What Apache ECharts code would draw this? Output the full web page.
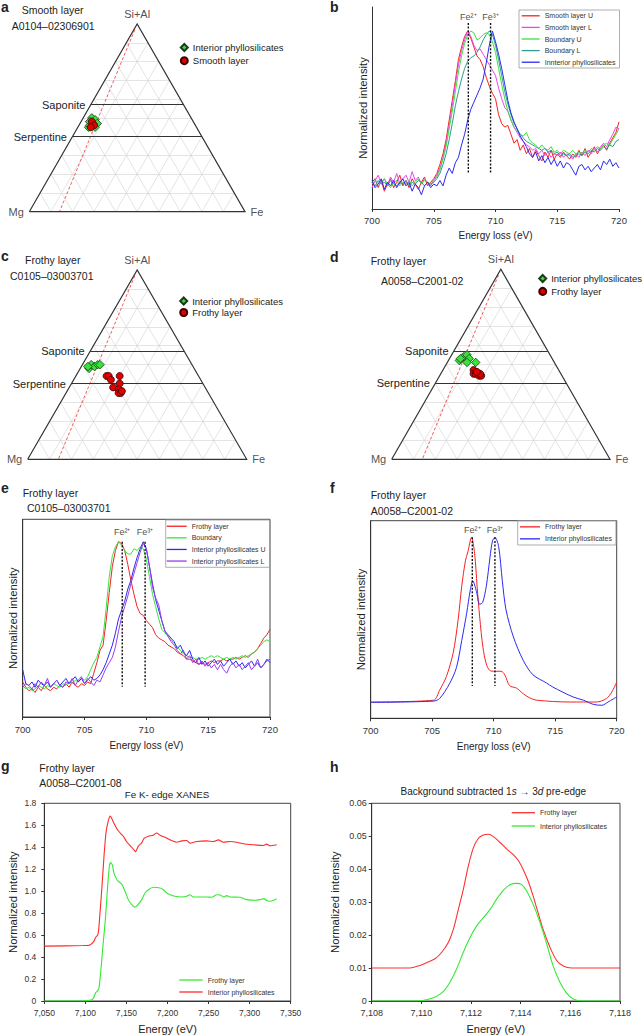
<!DOCTYPE html>
<html>
<head>
<meta charset="utf-8">
<title>Fe phyllosilicates</title>
<script src="https://cdn.jsdelivr.net/npm/echarts@6.0.0/dist/echarts.min.js"></script>
<style>
    body { margin: 0; background: #fff; }
    #page { position: relative; width: 643px; height: 1035px; }
    .layer { position: absolute; left: 0; top: 0; width: 643px; height: 1035px; }
</style>
</head>
<body>
<div id="page">
    <div class="layer" id="pa"></div>
    <div class="layer" id="pb"></div>
    <div class="layer" id="pc"></div>
    <div class="layer" id="pd"></div>
    <div class="layer" id="pe"></div>
    <div class="layer" id="pf"></div>
    <div class="layer" id="pg"></div>
    <div class="layer" id="ph"></div>
</div>
<script type="text/javascript">
    // ---------- ternary compositions, [Si+Al, Mg, Fe] fractions ----------
    var aInterior = [[0.45, 0.50, 0.05], [0.46, 0.49, 0.05], [0.50, 0.46, 0.04], [0.49, 0.45, 0.06],
                     [0.47, 0.45, 0.08], [0.45, 0.47, 0.08], [0.48, 0.48, 0.04], [0.47, 0.47, 0.06]];
    var aSmooth = [[0.48, 0.47, 0.05], [0.46, 0.47, 0.07], [0.45, 0.49, 0.06]];
    var cInterior = [[0.48, 0.48, 0.04], [0.50, 0.46, 0.04], [0.49, 0.45, 0.06], [0.50, 0.43, 0.07],
                     [0.50, 0.42, 0.08], [0.49, 0.48, 0.03]];
    var cFrothy = [[0.44, 0.42, 0.14], [0.44, 0.41, 0.15], [0.42, 0.41, 0.17], [0.44, 0.36, 0.20],
                   [0.40, 0.38, 0.22], [0.38, 0.42, 0.20], [0.37, 0.40, 0.23], [0.35, 0.41, 0.24],
                   [0.35, 0.40, 0.25], [0.36, 0.39, 0.25]];
    var dInterior = [[0.52, 0.43, 0.05], [0.54, 0.40, 0.06], [0.55, 0.38, 0.07], [0.53, 0.38, 0.09],
                     [0.51, 0.40, 0.09], [0.51, 0.36, 0.13], [0.53, 0.42, 0.05]];
    var dFrothy = [[0.47, 0.39, 0.14], [0.45, 0.40, 0.15], [0.45, 0.39, 0.16], [0.44, 0.38, 0.18],
                   [0.44, 0.37, 0.19], [0.45, 0.37, 0.18], [0.46, 0.38, 0.16]];
    var ternRefs = [{name: 'Saponite', siAl: 0.571}, {name: 'Serpentine', siAl: 0.40}];
    var feRatioLine = 0.14; // Fe/(Fe+Mg) of the dashed line

    // ---------- EELS spectra, 700-720 eV every 0.25 eV ----------
    var eelsE = [];
    for (var i = 0; i <= 80; i++) eelsE.push(700 + i * 0.25);

    var bSmoothU = [0.15, 0.17, 0.12, 0.16, 0.10, 0.14, 0.17, 0.12, 0.15, 0.19, 0.13, 0.16, 0.12, 0.17, 0.14, 0.11, 0.15, 0.18, 0.13, 0.15, 0.17,
        0.20, 0.25, 0.31, 0.39, 0.50, 0.61, 0.72, 0.84, 0.91, 0.97, 1.00, 0.96, 0.91, 0.86, 0.84, 0.80, 0.74, 0.69, 0.65, 0.62,
        0.53, 0.48, 0.46, 0.47, 0.42, 0.37, 0.39, 0.33, 0.36, 0.31, 0.34, 0.29, 0.33, 0.30, 0.27, 0.32, 0.29, 0.33, 0.28, 0.31,
        0.29, 0.32, 0.30, 0.28, 0.31, 0.29, 0.33, 0.30, 0.34, 0.29, 0.32, 0.35, 0.31, 0.34, 0.36, 0.33, 0.37, 0.40, 0.43, 0.49];
    var bSmoothL = [0.12, 0.16, 0.19, 0.14, 0.17, 0.13, 0.18, 0.15, 0.20, 0.14, 0.17, 0.19, 0.15, 0.21, 0.16, 0.18, 0.14, 0.17, 0.15, 0.13, 0.16,
        0.19, 0.23, 0.29, 0.37, 0.47, 0.58, 0.70, 0.81, 0.89, 0.95, 1.00, 0.97, 0.92, 0.89, 0.90, 0.87, 0.84, 0.81, 0.78, 0.75,
        0.68, 0.62, 0.57, 0.55, 0.50, 0.46, 0.43, 0.40, 0.38, 0.36, 0.35, 0.33, 0.34, 0.31, 0.33, 0.30, 0.32, 0.29, 0.31, 0.30,
        0.32, 0.29, 0.31, 0.30, 0.28, 0.31, 0.29, 0.32, 0.30, 0.33, 0.31, 0.34, 0.32, 0.35, 0.37, 0.35, 0.39, 0.42, 0.46, 0.45];
    var bBoundaryU = [0.14, 0.16, 0.13, 0.15, 0.17, 0.14, 0.12, 0.15, 0.16, 0.13, 0.15, 0.14, 0.16, 0.13, 0.15, 0.17, 0.14, 0.16, 0.15, 0.14, 0.16,
        0.18, 0.22, 0.28, 0.35, 0.45, 0.55, 0.66, 0.77, 0.86, 0.93, 0.98, 1.00, 0.99, 0.95, 0.96, 0.98, 0.99, 0.98, 0.94, 0.88,
        0.79, 0.70, 0.62, 0.55, 0.50, 0.46, 0.44, 0.42, 0.41, 0.43, 0.39, 0.37, 0.36, 0.34, 0.36, 0.34, 0.33, 0.35, 0.32, 0.33,
        0.31, 0.33, 0.32, 0.31, 0.33, 0.31, 0.32, 0.31, 0.33, 0.32, 0.34, 0.33, 0.35, 0.34, 0.36, 0.37, 0.36, 0.39, 0.42, 0.45];
    var bBoundaryL = [0.15, 0.13, 0.16, 0.14, 0.15, 0.13, 0.16, 0.14, 0.13, 0.15, 0.14, 0.16, 0.13, 0.15, 0.14, 0.16, 0.15, 0.13, 0.15, 0.14, 0.15,
        0.17, 0.20, 0.25, 0.31, 0.39, 0.48, 0.58, 0.66, 0.73, 0.79, 0.83, 0.85, 0.86, 0.88, 0.91, 0.95, 0.98, 1.00, 0.98, 0.92,
        0.84, 0.75, 0.66, 0.59, 0.53, 0.48, 0.45, 0.42, 0.40, 0.38, 0.37, 0.36, 0.35, 0.34, 0.33, 0.34, 0.32, 0.33, 0.31, 0.32,
        0.30, 0.31, 0.30, 0.31, 0.29, 0.30, 0.31, 0.30, 0.32, 0.31, 0.33, 0.32, 0.34, 0.33, 0.35, 0.34, 0.36, 0.35, 0.38, 0.39];
    var bInterior = [0.16, 0.12, 0.14, 0.17, 0.11, 0.15, 0.13, 0.16, 0.12, 0.15, 0.17, 0.13, 0.15, 0.10, 0.14, 0.12, 0.08, 0.13, 0.15, 0.12, 0.14,
        0.13, 0.16, 0.13, 0.19, 0.23, 0.20, 0.26, 0.29, 0.36, 0.42, 0.50, 0.56, 0.60, 0.64, 0.68, 0.73, 0.82, 0.92, 1.00, 0.94,
        0.87, 0.79, 0.70, 0.61, 0.54, 0.49, 0.45, 0.41, 0.38, 0.35, 0.31, 0.29, 0.32, 0.27, 0.30, 0.26, 0.29, 0.25, 0.28, 0.24,
        0.27, 0.23, 0.26, 0.25, 0.22, 0.19, 0.24, 0.25, 0.22, 0.24, 0.21, 0.23, 0.25, 0.22, 0.27, 0.25, 0.28, 0.24, 0.26, 0.23];

    var eFrothy = [0.20, 0.17, 0.15, 0.16, 0.14, 0.17, 0.15, 0.18, 0.16, 0.15, 0.17, 0.16, 0.18, 0.17, 0.19, 0.17, 0.20, 0.18, 0.17, 0.19, 0.18, 0.20, 0.19,
        0.25, 0.31, 0.38, 0.41, 0.55, 0.71, 0.86, 0.95, 1.00, 0.99,
        0.95, 0.87, 0.78, 0.70, 0.63, 0.59, 0.58, 0.55, 0.53, 0.51, 0.47, 0.45, 0.44, 0.43, 0.41, 0.40, 0.39, 0.37, 0.36, 0.35,
        0.33, 0.33, 0.32, 0.31, 0.30, 0.31, 0.30, 0.31, 0.32, 0.31, 0.32, 0.32, 0.33, 0.32, 0.33, 0.33, 0.34, 0.33, 0.34, 0.35,
        0.34, 0.36, 0.37, 0.39, 0.42, 0.45, 0.47, 0.50];
    var eBoundary = [0.18, 0.16, 0.17, 0.15, 0.16, 0.18, 0.17, 0.16, 0.18, 0.17, 0.19, 0.18, 0.17, 0.19, 0.18, 0.20, 0.19, 0.21, 0.20, 0.22, 0.21, 0.23,
        0.27, 0.31, 0.34, 0.40, 0.46, 0.62, 0.80, 0.92, 0.97, 1.00, 0.98,
        0.95, 0.93, 0.93, 0.96, 0.95, 0.97, 0.96, 0.90, 0.80, 0.70, 0.63, 0.56, 0.50, 0.48, 0.46, 0.44, 0.42, 0.40, 0.38, 0.36,
        0.35, 0.34, 0.34, 0.33, 0.33, 0.34, 0.33, 0.34, 0.35, 0.34, 0.35, 0.34, 0.33, 0.34, 0.33, 0.34, 0.33, 0.34, 0.35, 0.34,
        0.35, 0.36, 0.37, 0.39, 0.41, 0.43, 0.44, 0.43];
    var eInteriorU = [0.27, 0.19, 0.18, 0.20, 0.17, 0.21, 0.19, 0.18, 0.20, 0.17, 0.19, 0.21, 0.18, 0.20, 0.22, 0.19, 0.21, 0.23, 0.20, 0.22, 0.19, 0.21, 0.23, 0.21, 0.22,
        0.24, 0.27, 0.31, 0.36, 0.41, 0.48, 0.56, 0.61, 0.66, 0.73, 0.78, 0.85, 0.91, 0.96, 1.00, 0.96,
        0.86, 0.76, 0.67, 0.61, 0.55, 0.49, 0.47, 0.45, 0.43, 0.39, 0.41, 0.37, 0.35, 0.38, 0.33, 0.31,
        0.34, 0.30, 0.32, 0.29, 0.31, 0.33, 0.30, 0.32, 0.29, 0.31, 0.33, 0.30, 0.32, 0.29, 0.31, 0.28,
        0.30, 0.32, 0.29, 0.31, 0.28, 0.30, 0.33, 0.31];
    var eInteriorL = [0.17, 0.19, 0.18, 0.16, 0.19, 0.17, 0.20, 0.18, 0.22, 0.17, 0.19, 0.21, 0.18, 0.17, 0.20, 0.19, 0.22, 0.18, 0.21, 0.23, 0.19, 0.22, 0.20, 0.18, 0.21,
        0.20, 0.24, 0.28, 0.31, 0.34, 0.40, 0.49, 0.57, 0.63, 0.69, 0.76, 0.82, 0.88, 0.94, 0.99, 0.96,
        0.86, 0.74, 0.68, 0.64, 0.55, 0.49, 0.46, 0.43, 0.41, 0.38, 0.36, 0.38, 0.33, 0.35, 0.31, 0.33,
        0.30, 0.32, 0.29, 0.31, 0.28, 0.30, 0.27, 0.30, 0.27, 0.25, 0.29, 0.31, 0.28, 0.30, 0.27, 0.29,
        0.31, 0.27, 0.29, 0.33, 0.28, 0.30, 0.32, 0.33];

    // ---------- panel f, [energy loss, intensity] ----------
    var fFrothy = [[700, 0.09], [705.1, 0.10], [705.6, 0.155], [706.15, 0.23], [706.7, 0.36], [707.1, 0.54], [707.4, 0.73],
        [707.7, 0.87], [707.9, 0.92], [708.2, 1.0], [708.45, 0.91], [708.65, 0.73], [708.86, 0.56], [709.13, 0.39],
        [709.4, 0.30], [709.67, 0.265], [710.08, 0.26], [710.6, 0.26], [710.9, 0.24], [711.3, 0.18], [711.85, 0.167],
        [712.4, 0.136], [712.9, 0.114], [713.5, 0.10], [716.2, 0.09], [718.35, 0.09], [719.16, 0.109], [719.6, 0.145], [720, 0.2]];
    var fInterior = [[700, 0.088], [705.1, 0.095], [705.6, 0.109], [706.4, 0.19], [706.97, 0.28], [707.4, 0.43], [707.8, 0.58],
        [708.1, 0.71], [708.3, 0.76], [708.6, 0.70], [708.86, 0.63], [709.1, 0.64], [709.4, 0.73], [709.7, 0.89],
        [709.9, 0.98], [710.1, 1.0], [710.4, 0.95], [710.7, 0.76], [711.0, 0.60], [711.6, 0.45], [712.4, 0.32],
        [713.2, 0.24], [714.3, 0.195], [714.8, 0.173], [716.45, 0.118], [717.3, 0.10], [718.1, 0.077], [718.8, 0.072],
        [719.3, 0.09], [720, 0.118]];

    // ---------- panel g, Fe K-edge XANES [energy, intensity] ----------
    var gFrothy = [[7050, 0], [7093, 0], [7105.6, 0.006], [7109.7, 0.024], [7112.5, 0.076], [7114.5, 0.09], [7116.6, 0.12],
        [7118.6, 0.257], [7121, 0.469], [7124.3, 0.74], [7127.1, 1.044], [7129.2, 1.225], [7130.8, 1.261], [7132.8, 1.24],
        [7134.8, 1.165], [7137.3, 1.12], [7140.1, 1.09], [7143, 1.074], [7145.4, 1.05], [7148.2, 1.0], [7152.3, 0.923],
        [7156.4, 0.877], [7160.4, 0.853], [7163.3, 0.871], [7168.6, 0.923], [7172.6, 0.983], [7176.7, 1.013], [7182.7, 1.035],
        [7190.9, 1.029], [7195, 1.013], [7199, 0.983], [7203.1, 0.968], [7209.1, 0.953], [7217.2, 0.947], [7223.3, 0.953],
        [7227.4, 0.968], [7231.4, 0.947], [7247.7, 0.947], [7253.8, 0.944], [7259.9, 0.968], [7264, 0.965], [7268.8, 0.947],
        [7272, 0.959], [7276.1, 0.947], [7288.3, 0.944], [7296.4, 0.923], [7306.5, 0.917], [7312.6, 0.923], [7317.5, 0.932],
        [7320.8, 0.914], [7324.8, 0.908], [7333, 0.932]];
    var gInterior = [[7050, 0.5], [7097.5, 0.505], [7105.6, 0.51], [7110.5, 0.545], [7112.5, 0.58], [7115, 0.6], [7116.2, 0.65],
        [7117.8, 0.8], [7120.2, 1.04], [7122.7, 1.32], [7125.1, 1.53], [7127.9, 1.64], [7130.4, 1.685], [7132.8, 1.65],
        [7136, 1.6], [7140, 1.55], [7146.2, 1.5], [7150.3, 1.45], [7155.1, 1.41], [7159.2, 1.376], [7161.2, 1.36],
        [7164.5, 1.41], [7168.6, 1.44], [7171.4, 1.48], [7176.7, 1.5], [7182.7, 1.51], [7186.8, 1.53], [7190.9, 1.51],
        [7197, 1.49], [7203, 1.467], [7211.2, 1.446], [7217.2, 1.458], [7223.3, 1.461], [7227.4, 1.437], [7235.5, 1.452],
        [7247.7, 1.458], [7255.8, 1.452], [7261.9, 1.467], [7268, 1.446], [7276.1, 1.452], [7284.2, 1.446], [7292.4, 1.431],
        [7304.5, 1.422], [7316.7, 1.416], [7320.8, 1.428], [7324.8, 1.413], [7333, 1.422]];

    // ---------- panel h, pre-edge [energy, intensity] ----------
    var hFrothy = [[7108, 0.01], [7109.54, 0.01], [7109.95, 0.0108], [7110.21, 0.0116], [7110.55, 0.0128], [7110.82, 0.0148],
        [7111.09, 0.0178], [7111.29, 0.0218], [7111.49, 0.0278], [7111.69, 0.0339], [7111.89, 0.0409], [7112.09, 0.0464],
        [7112.3, 0.0494], [7112.5, 0.0504], [7112.7, 0.0506], [7112.9, 0.0499], [7113.17, 0.0481], [7113.44, 0.0461],
        [7113.7, 0.0444], [7113.9, 0.0427], [7114.1, 0.0399], [7114.3, 0.0364], [7114.5, 0.0319], [7114.7, 0.0268],
        [7114.9, 0.0218], [7115.18, 0.0163], [7115.45, 0.0123], [7115.72, 0.0106], [7116.05, 0.01], [7118, 0.01]];
    var hInterior = [[7108, 0], [7109.8, 0], [7110.21, 0.0004], [7110.6, 0.0014], [7110.89, 0.0029], [7111.15, 0.0057],
        [7111.42, 0.0097], [7111.69, 0.0148], [7111.96, 0.0193], [7112.23, 0.0228], [7112.5, 0.0253], [7112.77, 0.0278],
        [7113.03, 0.0309], [7113.3, 0.0336], [7113.57, 0.0353], [7113.84, 0.0357], [7114.04, 0.0353], [7114.24, 0.0334],
        [7114.5, 0.0294], [7114.78, 0.0238], [7115.05, 0.0173], [7115.3, 0.0108], [7115.58, 0.0057], [7115.85, 0.0024],
        [7116.1, 0.0007], [7116.46, 0], [7118, 0]];

    var FONT = '"Liberation Sans", Arial, Helvetica, sans-serif';
    var RED = '#f52222', GREEN = '#3be23b', BLUE = '#2a2af2', MAGENTA = '#ee44ee', TEAL = '#2e9c94', PURPLE = '#9a3cf0';

    function txt(x, y, s, size, opt) {
        opt = opt || {};
        var st = {
            text: s, fill: opt.color || '#222', fontSize: size, fontFamily: FONT,
            fontWeight: opt.bold ? 'bold' : 'normal',
            align: opt.align || 'left', verticalAlign: 'middle',
            textAlign: opt.align || 'left', textVerticalAlign: 'middle'
        };
        if (opt.rich) st.rich = opt.rich;
        return {type: 'text', x: x, y: y, silent: true, style: st};
    }

    function pair(vals) {
        return eelsE.map(function (e, k) { return [e, vals[k]]; });
    }

    // ternary -> plain x/y (y is Si+Al, x shifts with Fe)
    function tern(s, fe) { return [fe + s / 2, s]; }
    function ternPts(arr) { return arr.map(function (p) { return tern(p[0], p[2]); }); }

    function ternaryChart(id, cfg) {
        var chart = echarts.init(document.getElementById(id), null, {renderer: 'svg'});
        var gridLines = [];
        for (var k = 1; k < 10; k++) {
            var f = k / 10;
            gridLines.push({coords: [tern(f, 0), tern(f, 1 - f)]});
            gridLines.push({coords: [tern(0, f), tern(1 - f, f)]});
            gridLines.push({coords: [tern(0, f), tern(f, 0)]});
        }
        var series = [
            {type: 'lines', coordinateSystem: 'cartesian2d', silent: true, clip: false, z: 1,
                lineStyle: {color: '#d2d2d2', width: 0.6, opacity: 1}, data: gridLines},
            {type: 'lines', coordinateSystem: 'cartesian2d', silent: true, clip: false, z: 2,
                lineStyle: {color: '#f04848', width: 0.9, type: [3, 2], opacity: 1},
                data: [{coords: [tern(0.97, feRatioLine * 0.03), tern(0, feRatioLine)]}]},
            {type: 'lines', coordinateSystem: 'cartesian2d', silent: true, clip: false, z: 3,
                lineStyle: {color: '#333', width: 1.2, opacity: 1},
                label: {show: true, position: 'start', distance: 5.5, formatter: '{b}', fontSize: 11, fontFamily: FONT, color: '#222'},
                data: ternRefs.map(function (r) {
                    return {name: r.name, coords: [tern(r.siAl, 0), tern(r.siAl, 1 - r.siAl)]};
                })},
            {type: 'lines', coordinateSystem: 'cartesian2d', polyline: true, silent: true, clip: false, z: 3,
                lineStyle: {color: '#333', width: 1.2, opacity: 1},
                data: [{coords: [tern(0, 0), tern(0, 1), tern(1, 0), tern(0, 0)]}]},
            {type: 'scatter', symbolSize: 1, silent: true, clip: false, itemStyle: {color: 'rgba(0,0,0,0)'},
                label: {show: true, fontSize: 11, fontFamily: FONT, color: '#222'},
                data: [
                    {value: tern(1, 0), label: {position: 'top', distance: 4, formatter: 'Si+Al'}},
                    {value: tern(0, 0), label: {position: 'left', distance: 5, formatter: 'Mg'}},
                    {value: tern(0, 1), label: {position: 'right', distance: 5, formatter: 'Fe'}}
                ]}
        ];
        cfg.groups.forEach(function (g, n) {
            var dia = g.symbol === 'diamond';
            series.push({
                type: 'scatter', name: g.name, symbol: g.symbol, symbolSize: dia ? 8.5 : 7,
                z: 5 + n, data: ternPts(g.pts),
                itemStyle: {color: dia ? GREEN : '#e30000', borderColor: dia ? '#1d3a1d' : '#3a0000', borderWidth: 0.8, opacity: 1}
            });
        });
        chart.setOption({
            animation: false,
            grid: {left: cfg.grid[0], top: cfg.grid[1], width: cfg.grid[2], height: cfg.grid[3], show: false},
            xAxis: {type: 'value', min: 0, max: 1, show: false},
            yAxis: {type: 'value', min: 0, max: 1, show: false},
            legend: {
                orient: 'vertical', left: cfg.legend[0], top: cfg.legend[1], itemGap: cfg.legend[2],
                itemWidth: 7, itemHeight: 7, padding: 0, selectedMode: false,
                textStyle: {fontSize: 9.5, color: '#222', fontFamily: FONT},
                data: cfg.groups.map(function (g) { return g.name; })
            },
            graphic: {elements: cfg.texts},
            series: series
        });
    }

    function spectrumChart(id, cfg) {
        var chart = echarts.init(document.getElementById(id), null, {renderer: 'svg'});
        var series = cfg.curves.map(function (c) {
            return {type: 'line', name: c.name, data: c.data, symbol: 'none', smooth: cfg.smooth || false, z: 3,
                lineStyle: {color: c.color, width: cfg.lineWidth || 1}, itemStyle: {color: c.color}};
        });
        (cfg.fe || []).forEach(function (f) {
            series.push({type: 'line', data: [[f.x, f.top], [f.x, f.bottom]], symbol: 'none', silent: true, z: 4,
                lineStyle: {color: '#111', width: 1.4, type: [2, 1.6]}});
            series.push({type: 'scatter', data: [[f.x, f.top]], symbolSize: 1, silent: true, z: 5,
                itemStyle: {color: 'rgba(0,0,0,0)'},
                label: {show: true, position: 'top', distance: f.dist, formatter: f.text, fontSize: 9, fontFamily: FONT, color: '#222'}});
        });
        var lg = cfg.legend;
        chart.setOption({
            animation: false,
            grid: {left: cfg.grid[0], top: cfg.grid[1], width: cfg.grid[2], height: cfg.grid[3],
                show: cfg.box, borderColor: '#444', borderWidth: 1},
            xAxis: {
                type: 'value', min: cfg.x[0], max: cfg.x[1], interval: cfg.x[2],
                axisLine: {show: true, onZero: false, lineStyle: {color: '#333', width: 1}},
                axisTick: {show: true, length: 3, lineStyle: {color: '#333'}},
                axisLabel: {fontSize: cfg.xLabelSize, color: '#333', fontFamily: FONT, margin: cfg.xMargin, formatter: cfg.xFmt},
                splitLine: {show: false},
                name: cfg.xName, nameLocation: 'middle', nameGap: cfg.xNameGap,
                nameTextStyle: {fontSize: cfg.xNameSize, color: '#222', fontFamily: FONT}
            },
            yAxis: {
                type: 'value', min: 0, max: cfg.y[0], interval: cfg.y[1],
                axisLine: {show: true, onZero: false, lineStyle: {color: '#333', width: 1}},
                axisTick: {show: cfg.yLabels, length: 3, lineStyle: {color: '#333'}},
                axisLabel: {show: cfg.yLabels, fontSize: cfg.yLabelSize, color: '#333', fontFamily: FONT, margin: cfg.yMargin, formatter: cfg.yFmt},
                splitLine: {show: false},
                name: 'Normalized intensity', nameLocation: 'middle', nameGap: cfg.yNameGap,
                nameTextStyle: {fontSize: 11.3, color: '#222', fontFamily: FONT}
            },
            legend: {
                orient: 'vertical', left: lg.left, top: lg.top, itemWidth: lg.w, itemHeight: 1.3, itemGap: lg.gap,
                icon: 'rect',
                padding: lg.pad, borderColor: lg.border ? '#999' : 'transparent', borderWidth: lg.border ? 0.8 : 0,
                selectedMode: false, textStyle: {fontSize: 7, color: '#333', fontFamily: FONT},
                data: cfg.curves.map(function (c) { return c.name; })
            },
            graphic: {elements: cfg.texts || []},
            series: series
        });
    }

    // ---------- a ----------
    ternaryChart('pa', {
        grid: [29.3, 24, 215.7, 187.7],
        groups: [{name: 'Interior phyllosilicates', pts: aInterior, symbol: 'diamond'},
                 {name: 'Smooth layer', pts: aSmooth, symbol: 'circle'}],
        legend: [179.8, 42.5, 3.2],
        texts: [txt(1, 7, 'a', 14, {bold: true}), txt(21.7, 10, 'Smooth layer', 10.5), txt(11.7, 26, 'A0104–02306901', 10.5)]
    });

    // ---------- c ----------
    ternaryChart('pc', {
        grid: [27.7, 270, 219, 189.3],
        groups: [{name: 'Interior phyllosilicates', pts: cInterior, symbol: 'diamond'},
                 {name: 'Frothy layer', pts: cFrothy, symbol: 'circle'}],
        legend: [179.2, 296, 1.5],
        texts: [txt(1, 256, 'c', 14, {bold: true}), txt(25, 260, 'Frothy layer', 10.5), txt(10, 276, 'C0105–03003701', 10.5)]
    });

    // ---------- d ----------
    ternaryChart('pd', {
        grid: [391.7, 269.3, 218.3, 190],
        groups: [{name: 'Interior phyllosilicates', pts: dInterior, symbol: 'diamond'},
                 {name: 'Frothy layer', pts: dFrothy, symbol: 'circle'}],
        legend: [538.2, 273.5, 2.9],
        texts: [txt(330, 256.5, 'd', 14, {bold: true}), txt(370.7, 260.7, 'Frothy layer', 10.5), txt(381, 280.7, 'A0058–C2001-02', 10.5)]
    });

    // ---------- b ----------
    spectrumChart('pb', {
        grid: [372, 7, 247, 202], box: false,
        x: [700, 720, 5], y: [1.135, 0.5], yLabels: false,
        xLabelSize: 9.5, xMargin: 6, xName: 'Energy loss (eV)', xNameGap: 21, xNameSize: 10,
        yNameGap: 4,
        curves: [
            {name: 'Smooth layer U', color: RED, data: pair(bSmoothU)},
            {name: 'Smooth layer L', color: MAGENTA, data: pair(bSmoothL)},
            {name: 'Boundary U', color: GREEN, data: pair(bBoundaryU)},
            {name: 'Boundary L', color: TEAL, data: pair(bBoundaryL)},
            {name: 'Innterior phyllosilicates', color: BLUE, data: pair(bInterior)}
        ],
        fe: [{x: 707.8, top: 1.045, bottom: 0.2, text: 'Fe²⁺', dist: 1},
             {x: 709.6, top: 1.045, bottom: 0.2, text: 'Fe³⁺', dist: 1}],
        legend: {left: 519, top: 10, w: 18, gap: 4.6, pad: [2.3, 4, 2.3, 2.7], border: true},
        texts: [txt(330, 6.5, 'b', 14, {bold: true})]
    });

    // ---------- e ----------
    spectrumChart('pe', {
        grid: [22.7, 519.3, 247.3, 197.7], box: true,
        x: [700, 720, 5], y: [1.128, 0.5], yLabels: false,
        xLabelSize: 9.5, xMargin: 7, xName: 'Energy loss (eV)', xNameGap: 23, xNameSize: 10,
        yNameGap: 4.2,
        curves: [
            {name: 'Frothy layer', color: RED, data: pair(eFrothy)},
            {name: 'Boundary', color: GREEN, data: pair(eBoundary)},
            {name: 'Interior phyllosilicates U', color: BLUE, data: pair(eInteriorU)},
            {name: 'Interior phyllosilicates L', color: PURPLE, data: pair(eInteriorL)}
        ],
        fe: [{x: 708.05, top: 1.0, bottom: 0.173, text: 'Fe²⁺', dist: 5},
             {x: 709.9, top: 1.0, bottom: 0.173, text: 'Fe³⁺', dist: 5}],
        legend: {left: 165.7, top: 520, w: 20, gap: 4.6, pad: [2.75, 4, 2.75, 1], border: true},
        texts: [txt(1, 488.4, 'e', 14, {bold: true}), txt(22.7, 492.7, 'Frothy layer', 10.5), txt(27, 508.3, 'C0105–03003701', 10.5)]
    });

    // ---------- f ----------
    spectrumChart('pf', {
        grid: [370.7, 520.7, 246, 197.6], box: true, smooth: 0.3,
        x: [700, 720, 5], y: [1.092, 0.5], yLabels: false,
        xLabelSize: 9.5, xMargin: 7, xName: 'Energy loss (eV)', xNameGap: 23, xNameSize: 10,
        yNameGap: 4.7,
        curves: [
            {name: 'Frothy layer', color: RED, data: fFrothy},
            {name: 'Interior phyllosilicates', color: BLUE, data: fInterior}
        ],
        fe: [{x: 708.26, top: 1.0, bottom: 0.178, text: 'Fe²⁺', dist: 2},
             {x: 710.1, top: 1.0, bottom: 0.178, text: 'Fe³⁺', dist: 2}],
        legend: {left: 517.7, top: 520.7, w: 20, gap: 5, pad: [2.65, 4, 2.65, 2.3], border: true},
        texts: [txt(330, 488.4, 'f', 14, {bold: true}), txt(370.7, 495, 'Frothy layer', 10.5), txt(370.7, 510.7, 'A0058–C2001-02', 10.5)]
    });

    function thousands(v) { return v.toLocaleString('en-US'); }

    // ---------- g ----------
    spectrumChart('pg', {
        grid: [44.3, 803.3, 246.4, 198.4], box: true, smooth: 0.2, lineWidth: 1.1,
        x: [7050, 7350, 50], y: [1.8, 0.2], yLabels: true,
        xLabelSize: 8.5, xMargin: 7, xFmt: thousands, xName: 'Energy (eV)', xNameGap: 22, xNameSize: 11,
        yLabelSize: 8.5, yMargin: 8, yFmt: function (v) { return v === 0 ? '0' : v.toFixed(1); },
        yNameGap: 25.5,
        curves: [
            {name: 'Frothy layer', color: '#33ea33', data: gFrothy},
            {name: 'Interior phyllosilicates', color: '#ff2a2a', data: gInterior}
        ],
        legend: {left: 179.3, top: 976.5, w: 23.4, gap: 5, pad: 0, border: false},
        texts: [txt(1, 765.8, 'g', 14, {bold: true}), txt(39.3, 768.3, 'Frothy layer', 10.5), txt(39.3, 782.7, 'A0058–C2001-08', 10.5),
                txt(167, 794.7, 'Fe K- edge XANES', 9.8, {align: 'center'})]
    });

    // ---------- h ----------
    spectrumChart('ph', {
        grid: [371.7, 803.3, 248.3, 199], box: true, smooth: 0.3, lineWidth: 1.1,
        x: [7108, 7118, 2], y: [0.06, 0.01], yLabels: true,
        xLabelSize: 9, xMargin: 7, xFmt: thousands, xName: 'Energy (eV)', xNameGap: 22, xNameSize: 11,
        yLabelSize: 9, yMargin: 5, yFmt: function (v) { return v === 0 ? '0' : v.toFixed(2); },
        yNameGap: 31,
        curves: [
            {name: 'Frothy layer', color: '#ff3030', data: hFrothy},
            {name: 'Interior phyllosilicates', color: '#33ea33', data: hInterior}
        ],
        legend: {left: 511.7, top: 809.2, w: 23.3, gap: 6.3, pad: 0, border: false},
        texts: [txt(330, 766.8, 'h', 14, {bold: true}),
                txt(493.3, 791.7, '{n|Background subtracted 1}{i|s}{n| → 3}{i|d}{n| pre-edge}', 10, {
                    align: 'center',
                    rich: {n: {fontSize: 10, fontFamily: FONT, fill: '#222', color: '#222'},
                           i: {fontSize: 10, fontFamily: FONT, fontStyle: 'italic', fill: '#222', color: '#222'}}
                })]
    });
</script>
</body>
</html>
